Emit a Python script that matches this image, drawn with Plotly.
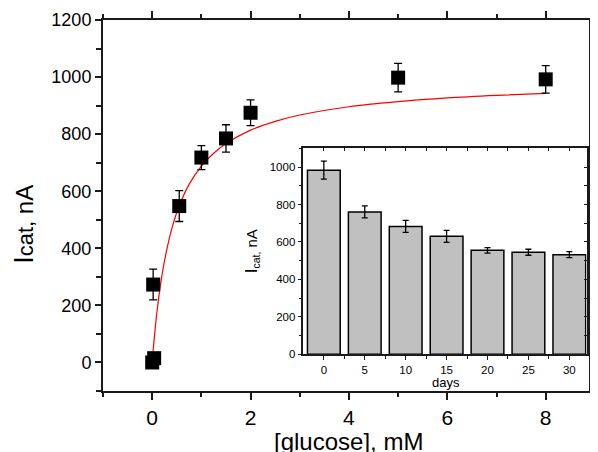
import plotly.graph_objects as go

# ---- main plot data ----
glucose_mM = [0, 0.04, 0.02, 0.55, 1.0, 1.5, 2.0, 5.0, 8.0]
current_nA = [0, 15, 273, 548, 718, 785, 875, 998, 992]
current_err = [0, 0, 54, 54, 42, 48, 45, 50, 48]

# fitted curve
fit_x = [0, 0.05, 0.1, 0.2, 0.3, 0.4, 0.55, 0.75, 1.0, 1.25, 1.5, 2.0, 2.5, 3.0, 4.0, 5.0, 6.0, 7.0, 8.0]
fit_y = [0, 100, 182, 307, 398, 470, 549, 624, 688, 733, 767, 814, 845, 867, 896, 914, 927, 936, 943]

# ---- inset data ----
days = [0, 5, 10, 15, 20, 25, 30]
days_current = [983, 760, 683, 630, 555, 545, 532]
days_err = [48, 32, 32, 32, 15, 16, 16]
day_minor = [2.5, 7.5, 12.5, 17.5, 22.5, 27.5]

FONT = "Liberation Sans, Arial, sans-serif"
AX = "#1a1a1a"

fig = go.Figure()

fig.add_trace(go.Scatter(
    x=fit_x, y=fit_y, mode="lines", line=dict(color="red", width=1.2, shape="spline"),
    xaxis="x", yaxis="y", showlegend=False, hoverinfo="skip"))

fig.add_trace(go.Scatter(
    x=glucose_mM, y=current_nA, mode="markers",
    marker=dict(symbol="square", size=14, color="black"),
    error_y=dict(type="data", array=current_err, visible=True, color="black", thickness=1.3, width=4),
    xaxis="x", yaxis="y", showlegend=False))

fig.add_trace(go.Bar(
    x=days, y=days_current, width=4,
    marker=dict(color="#c0c0c0", line=dict(color="black", width=1.5)),
    error_y=dict(type="data", array=days_err, visible=True, color="black", thickness=1.3, width=3),
    xaxis="x2", yaxis="y2", showlegend=False))

# invisible traces so the overlay tick axes are drawn
fig.add_trace(go.Scatter(x=[0], y=[0], mode="markers", marker=dict(opacity=0),
                         xaxis="x3", yaxis="y2", showlegend=False, hoverinfo="skip"))
fig.add_trace(go.Scatter(x=[0], y=[0], mode="markers", marker=dict(opacity=0),
                         xaxis="x2", yaxis="y3", showlegend=False, hoverinfo="skip"))

fig.update_layout(
    width=590, height=444,
    margin=dict(l=95, r=1, t=12, b=61),
    paper_bgcolor="white", plot_bgcolor="white",
    font=dict(family=FONT, color="black"),
    xaxis=dict(
        range=[-1, 8.88], tickmode="linear", tick0=0, dtick=2,
        ticks="outside", ticklen=7, tickwidth=1.5, tickcolor=AX,
        minor=dict(dtick=1, tick0=0, ticks="outside", ticklen=4, tickwidth=1.5, tickcolor=AX),
        showline=True, linecolor=AX, linewidth=2, mirror="ticks",
        showgrid=False, zeroline=False,
        tickfont=dict(size=21, family=FONT, color="black"), domain=[0, 1],
    ),
    yaxis=dict(
        range=[-100, 1200], tickmode="linear", tick0=0, dtick=200,
        ticks="outside", ticklen=6, tickwidth=1.5, tickcolor=AX,
        minor=dict(dtick=100, tick0=0, ticks="outside", ticklen=5, tickwidth=1.5, tickcolor=AX),
        showline=True, linecolor=AX, linewidth=2, mirror="ticks",
        showgrid=False, zeroline=False,
        tickfont=dict(size=18, family=FONT, color="black"), domain=[0, 1],
    ),
    xaxis2=dict(
        domain=[0.4123, 0.9949], anchor="y2",
        range=[-2.5, 32.1], tickmode="array", tickvals=days, ticktext=[str(d) for d in days],
        ticks="outside", ticklen=4, tickwidth=1, tickcolor=AX,
        minor=dict(tickmode="array", tickvals=day_minor, ticks="outside", ticklen=3, tickwidth=1, tickcolor=AX),
        showline=True, linecolor=AX, linewidth=1.5, mirror=True,
        showgrid=False, zeroline=False,
        tickfont=dict(size=11.5, family=FONT, color="black"),
    ),
    yaxis2=dict(
        domain=[0.0989, 0.6542], anchor="x2",
        range=[0, 1100], tickmode="linear", tick0=0, dtick=200,
        ticks="outside", ticklen=4, tickwidth=1, tickcolor=AX,
        minor=dict(dtick=100, tick0=0, ticks="outside", ticklen=3, tickwidth=1, tickcolor=AX),
        showline=True, linecolor=AX, linewidth=1.5, mirror=True,
        showgrid=False, zeroline=False,
        tickfont=dict(size=11.5, family=FONT, color="black"),
    ),
    xaxis3=dict(
        overlaying="x2", anchor="y2", side="top", range=[-2.5, 32.1],
        tickmode="linear", tick0=0, dtick=2.5, ticks="inside", ticklen=3, tickwidth=1, tickcolor=AX,
        showticklabels=False, showline=False, showgrid=False, zeroline=False,
    ),
    yaxis3=dict(
        overlaying="y2", anchor="x2", side="right", range=[0, 1100],
        tickmode="linear", tick0=0, dtick=100, ticks="inside", ticklen=3, tickwidth=1, tickcolor=AX,
        showticklabels=False, showline=False, showgrid=False, zeroline=False,
    ),
    annotations=[
        dict(text="<span style='font-size:27px'>I</span><span style='font-size:22px'>cat,</span> nA",
             xref="paper", yref="paper", x=-0.163, y=0.45,
             xanchor="center", yanchor="middle", textangle=-90, showarrow=False,
             font=dict(size=24, family=FONT, color="black")),
        dict(text="[glucose], mM", xref="paper", yref="paper", x=0.505, y=-0.136,
             xanchor="center", yanchor="middle", showarrow=False,
             font=dict(size=24, family=FONT, color="black")),
        dict(text="<span style='font-size:17px'>I</span><sub>cat,</sub> nA",
             xref="paper", yref="paper", x=0.307, y=0.377,
             xanchor="center", yanchor="middle", textangle=-90, showarrow=False,
             font=dict(size=15, family=FONT, color="black")),
        dict(text="days", xref="paper", yref="paper", x=0.705, y=0.022,
             xanchor="center", yanchor="middle", showarrow=False,
             font=dict(size=13, family=FONT, color="black")),
    ],
)

fig.write_html("out.html")
